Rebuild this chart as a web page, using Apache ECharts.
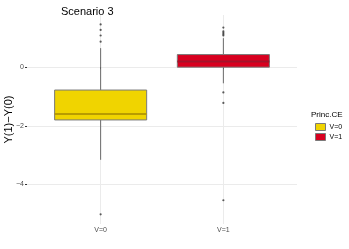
<!DOCTYPE html>
<html><head><meta charset="utf-8">
<script src="https://cdn.jsdelivr.net/npm/echarts@6/dist/echarts.min.js"></script>
<style>html,body{margin:0;padding:0;background:#fff}#c{width:349px;height:249px}</style>
</head><body><div id="c"></div>
<script>
const categories = ['V=0', 'V=1'];
// [whiskerLow, Q1, median, Q3, whiskerHigh]
const boxV0 = [-3.16, -1.80, -1.60, -0.78, 0.65];
const boxV1 = [-0.55, 0.00, 0.19, 0.43, 0.99];
const outliersV0 = [1.46, 1.27, 1.08, 0.87, -5.02];
const outliersV1 = [1.35, 1.22, 1.17, 1.12, 1.08, -0.86, -1.22, -4.54];
const yTicks = [-4, -2, 0];
const fills = ['#F0D400', '#D8001F'];
const medianColors = ['#B89C00', '#A3132B'];

const boxes = [boxV0, boxV1];
const outliers = [outliersV0, outliersV1];

function renderBox(params, api) {
  const x = api.value(0);
  const lo = api.value(1), q1 = api.value(2), med = api.value(3), q3 = api.value(4), hi = api.value(5);
  const gi = params.seriesIndex;
  const half = 0.375;
  const pL = api.coord([x - half, q3]);
  const pR = api.coord([x + half, q1]);
  const pc = (v) => api.coord([x, v]);
  const lineStyle = { stroke: '#6a6a6a', lineWidth: 1 };
  return {
    type: 'group',
    children: [
      { type: 'line', shape: { x1: pc(hi)[0], y1: pc(hi)[1], x2: pc(q3)[0], y2: pc(q3)[1] }, style: lineStyle },
      { type: 'line', shape: { x1: pc(q1)[0], y1: pc(q1)[1], x2: pc(lo)[0], y2: pc(lo)[1] }, style: lineStyle },
      { type: 'rect', shape: { x: pL[0], y: pL[1], width: pR[0] - pL[0], height: pR[1] - pL[1] },
        style: { fill: fills[gi], stroke: '#7a7a7a', lineWidth: 1 } },
      { type: 'line', shape: { x1: pL[0], y1: pc(med)[1], x2: pR[0], y2: pc(med)[1] },
        style: { stroke: medianColors[gi], lineWidth: 2 } }
    ]
  };
}

const series = [];
categories.forEach((c, i) => {
  series.push({
    name: c, type: 'custom', renderItem: renderBox,
    itemStyle: { color: fills[i], borderColor: '#7a7a7a', borderWidth: 1 },
    encode: { x: 0, y: [1, 2, 3, 4, 5] },
    data: [[i + 1].concat(boxes[i])]
  });
});
categories.forEach((c, i) => {
  series.push({
    type: 'scatter', symbolSize: 2.2, silent: true,
    itemStyle: { color: '#333333' },
    data: outliers[i].map(v => [i + 1, v])
  });
});

const chart = echarts.init(document.getElementById('c'));
chart.setOption({
  animation: false,
  title: [
    { text: 'Scenario 3', left: 56, top: 1, textStyle: { fontFamily: 'Liberation Sans', fontSize: 11, fontWeight: 'normal', color: '#000' } },
    { text: 'Princ.CE', left: 306, top: 106, textStyle: { fontFamily: 'Liberation Sans', fontSize: 8, fontWeight: 'normal', color: '#000' } }
  ],
  legend: {
    data: categories.map((c, i) => ({ name: c, icon: 'rect', itemStyle: { color: fills[i], borderColor: '#7a7a7a', borderWidth: 1 } })),
    orient: 'vertical', left: 310, top: 118, itemWidth: 10, itemHeight: 7, itemGap: 2,
    textStyle: { fontFamily: 'Liberation Sans', fontSize: 7, color: '#000', padding: [0, 0, 0, -1] }
  },
  grid: { left: 27, right: 52, top: 15, bottom: 25, containLabel: false, outerBoundsMode: 'none' },
  xAxis: {
    type: 'value', min: 0.4, max: 2.6,
    axisLine: { show: false },
    axisTick: { show: true, length: 2, lineStyle: { color: '#333' }, customValues: [1, 2] },
    axisLabel: { customValues: [1, 2], formatter: v => categories[Math.round(v) - 1] || '', fontFamily: 'Liberation Sans', fontSize: 7, color: '#4d4d4d', margin: 3 },
    splitLine: { show: true, lineStyle: { color: '#ebebeb', width: 1 } }
  },
  yAxis: {
    type: 'value', min: -5.35, max: 1.78,
    name: 'Y(1)\u2212Y(0)', nameLocation: 'middle', nameGap: 13, nameMoveOverlap: false,
    nameTextStyle: { fontFamily: 'Liberation Sans', fontSize: 11, color: '#000' },
    axisLine: { show: false },
    axisTick: { show: true, length: 2, lineStyle: { color: '#333' }, customValues: yTicks },
    axisLabel: { customValues: yTicks, formatter: v => (v < 0 ? '\u2212' + Math.abs(v) : String(v)), fontFamily: 'Liberation Sans', fontSize: 7, color: '#4d4d4d', margin: 3 },
    splitLine: { show: true, lineStyle: { color: '#ebebeb', width: 1 } }
  },
  series: series
});
</script></body></html>
